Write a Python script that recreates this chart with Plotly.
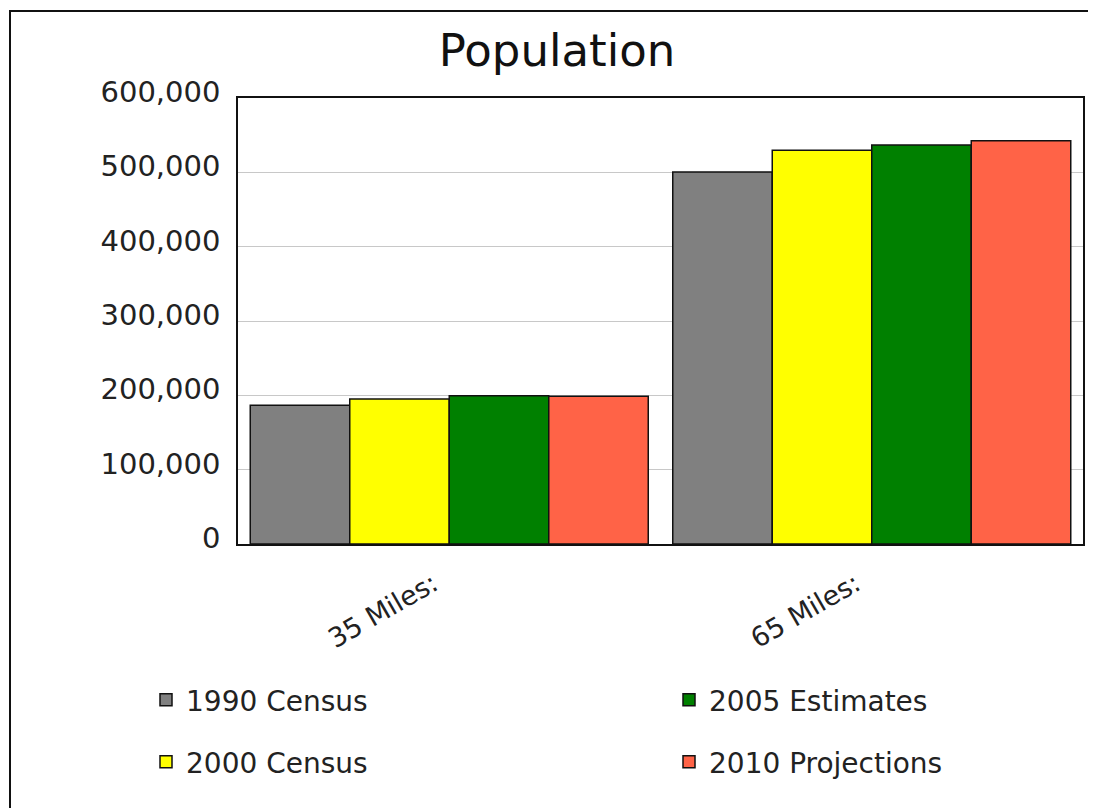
import plotly.graph_objects as go

categories = ["35 Miles:", "65 Miles:"]
series_names = ["1990 Census", "2000 Census", "2005 Estimates", "2010 Projections"]
census_1990 = [186500, 500500]
census_2000 = [195000, 529600]
estimates_2005 = [199500, 536800]
projections_2010 = [198700, 542600]
y_ticks = [0, 100000, 200000, 300000, 400000, 500000, 600000]

colors = ["#808080", "#ffff00", "#008000", "#ff6347"]
series_values = [census_1990, census_2000, estimates_2005, projections_2010]
legend_ids = ["legend", "legend2", "legend", "legend2"]
legend_widths = [478, 478, 260, 260]

FONT = "DejaVu Sans"
OFF = 8  # page body margin
W, H = 1096 - OFF, 808 - OFF
L, R, T, B = 238 - OFF, 13, 98 - OFF, 264
pw, ph = W - L - R, H - T - B


def px_x(x):
    return (x - OFF - L) / pw


def px_y(y):
    return (H - B - (y - OFF)) / ph


fig = go.Figure()
for name, vals, col, lg, lw in zip(series_names, series_values, colors, legend_ids, legend_widths):
    fig.add_trace(go.Bar(
        x=categories, y=vals, name=name,
        marker=dict(color=col, line=dict(color="#111111", width=1.5)),
        legend=lg, legendwidth=lw,
    ))

fig.update_layout(
    width=W, height=H,
    margin=dict(l=L, r=R, t=T, b=B, pad=0),
    paper_bgcolor="white", plot_bgcolor="white",
    barmode="group", bargap=0.058, bargroupgap=0,
    font=dict(family=FONT, color="#222222"),
    title=dict(text="Population", font=dict(family=FONT, size=45, color="#111111"),
               x=(557 - OFF) / W, xref="container", xanchor="center",
               y=1 - (50 - OFF) / H, yref="container", yanchor="middle"),
    xaxis=dict(showline=True, mirror=True, linecolor="#111111", linewidth=1.5,
               showgrid=False, ticks="", tickangle=-30,
               ticklabelstandoff=12, ticklabelshift=-16,
               tickfont=dict(family=FONT, size=27, color="#222222")),
    yaxis=dict(range=[0, 600000], tickvals=y_ticks, tickformat=",",
               showline=True, mirror=True, linecolor="#111111", linewidth=1.5,
               showgrid=True, gridcolor="#c8c8c8", gridwidth=1, zeroline=False,
               ticks="", ticklabelstandoff=10, ticklabelshift=-6,
               tickfont=dict(family=FONT, size=29, color="#222222")),
    legend=dict(orientation="h", x=px_x(146), xanchor="left", y=px_y(700), yanchor="middle",
                entrywidthmode="pixels",
                font=dict(family=FONT, size=28, color="#222222"),
                bgcolor="rgba(0,0,0,0)"),
    legend2=dict(orientation="h", x=px_x(146), xanchor="left", y=px_y(762), yanchor="middle",
                 entrywidthmode="pixels",
                 font=dict(family=FONT, size=28, color="#222222"),
                 bgcolor="rgba(0,0,0,0)"),
    shapes=[dict(type="rect", xref="paper", yref="paper",
                 x0=px_x(10), x1=px_x(1200), y0=px_y(900), y1=px_y(11),
                 line=dict(color="#111111", width=2), fillcolor="rgba(0,0,0,0)",
                 layer="below")],
)

fig.write_html("out.html")
